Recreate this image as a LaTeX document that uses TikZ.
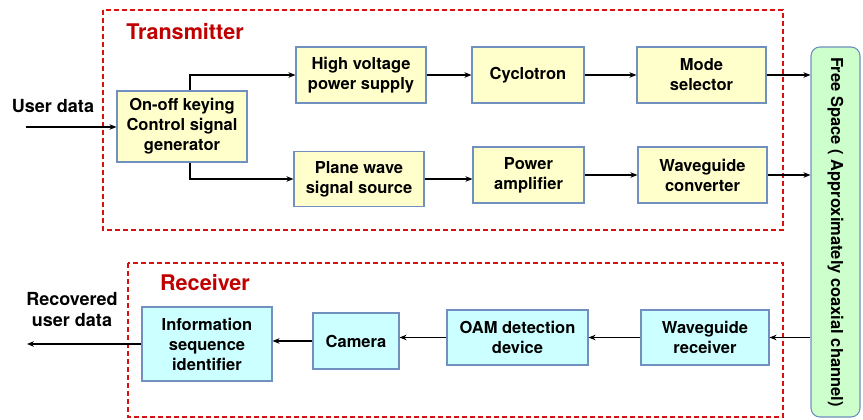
\documentclass[tikz,border=0pt]{standalone}
\usepackage{fontspec}
\setmainfont{TeX Gyre Heros}
\usetikzlibrary{arrows.meta,calc,positioning}
\definecolor{txF}{HTML}{FFFFCC}
\definecolor{rxF}{HTML}{CCFFFF}
\definecolor{chF}{HTML}{CCFFCC}
\definecolor{boxD}{HTML}{7090C0}
\definecolor{frameC}{HTML}{D81010}
\definecolor{headC}{HTML}{C00000}
\tikzset{
  box/.style={draw=boxD, line width=1.1pt, align=center, inner sep=2pt,
              font=\fontsize{16.5}{20}\selectfont\bfseries},
  tx/.style={box, fill=txF},
  rx/.style={box, fill=rxF},
  chan/.style={box, fill=chF, rounded corners=9pt},
  arr/.style={-{Stealth[length=7pt,width=5.5pt]}, line width=1.7pt},
  frame/.style={draw=frameC, dashed, dash pattern=on 5pt off 3pt, line width=1.3pt},
  head/.style={font=\fontsize{21.6}{24}\selectfont\bfseries, text=headC},
  lab/.style={font=\fontsize{18}{21}\selectfont\bfseries, align=center},
}
\begin{document}
\begin{tikzpicture}[x=1pt, y=-1pt]
\useasboundingbox (0,0) rectangle (863,420);
% frames
\draw[frame] (103,10) rectangle (783,230);
\draw[frame] (128,263) rectangle (783,417);
\node[head] (txh) at (185,32) {Transmitter};
\node[head] (rxh) at (205,283) {Receiver};
% transmitter
\node[tx, minimum width=130, minimum height=71] (ook) at (182,126.5) {On-off keying\\Control signal\\generator};
\node[tx, minimum width=130, minimum height=56] (hv)  at (361,75)    {High voltage\\power supply};
\node[tx, minimum width=112, minimum height=56] (cyc) at (528,75)    {Cyclotron};
\node[tx, minimum width=129, minimum height=56] (ms)  at (701.5,75)  {Mode\\selector};
\node[tx, minimum width=130, minimum height=55] (pw)  at (359,179)   {Plane wave\\signal source};
\node[tx, minimum width=111, minimum height=56] (pa)  at (528.5,175) {Power\\amplifier};
\node[tx, minimum width=129, minimum height=56] (wgc) at (702.5,175) {Waveguide\\converter};
% channel
\node[chan, minimum width=49, minimum height=370] (fs) at (835.5,232) {};
\node[box, draw=none, rotate=-90] (fst) at (fs.center) {Free Space ( Approximately coaxial channel)};
% receiver
\node[rx, minimum width=130, minimum height=74] (isi) at (207,344)    {Information\\sequence\\identifier};
\node[rx, minimum width=86,  minimum height=56] (cam) at (356,341)    {Camera};
\node[rx, minimum width=141, minimum height=55] (oam) at (517.5,337.5) {OAM detection\\device};
\node[rx, minimum width=128, minimum height=55] (wgr) at (705,337.5)  {Waveguide\\receiver};
% input / output
\coordinate (ud) at (26,127);
\coordinate (rud) at (27,341);
\node[lab] (udl) at (53,106) {User data};
\node[lab] (rudl) at (72,310) {Recovered\\user data};
% links
\draw[arr] (ud) -- (ud -| ook.west);
\draw[arr] ([xshift=8]ook.north) |- (hv.west);
\draw[arr] ([xshift=8]ook.south) |- (pw.west);
\draw[arr] (hv) -- (cyc);
\draw[arr] (cyc) -- (ms);
\draw[arr] (pw.east) -- (pw.east -| pa.west);
\draw[arr] (pa) -- (wgc);
\draw[arr] (ms.east) -- (ms.east -| fs.west);
\draw[arr] (wgc.east) -- (wgc.east -| fs.west);
\draw[arr] (wgr.east -| fs.west) -- (wgr.east);
\draw[arr] (wgr) -- (oam);
\draw[arr] (oam.west) -- (oam.west -| cam.east);
\draw[arr] (cam.west) -- (cam.west -| isi.east);
\draw[arr] (isi.west) -- (isi.west -| rud);
\end{tikzpicture}
\end{document}
